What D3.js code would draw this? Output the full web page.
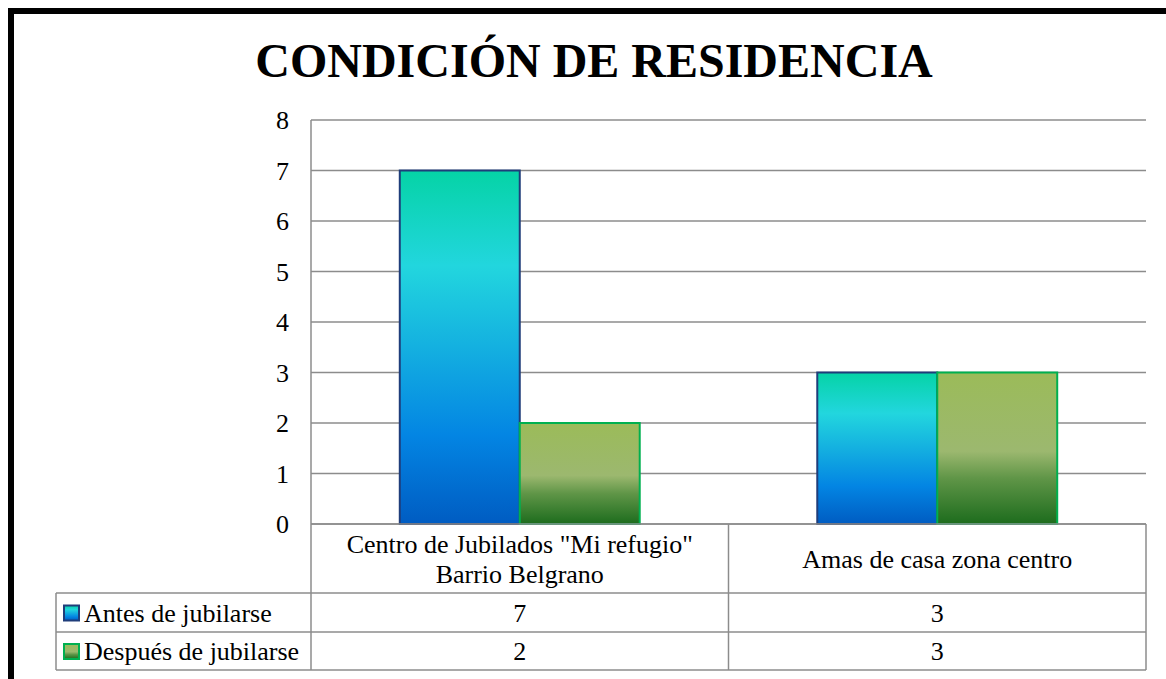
<!DOCTYPE html>
<html><head><meta charset="utf-8">
<script src="https://cdn.jsdelivr.net/npm/d3@7"></script>
</head><body style="margin:0">
<svg id="c" width="1166" height="679"></svg>
<script>
const title = "CONDICIÓN DE RESIDENCIA";
const categories = [["Centro de Jubilados \"Mi refugio\"", "Barrio Belgrano"], ["Amas de casa zona centro"]];
const seriesNames = ["Antes de jubilarse", "Después de jubilarse"];
const antes = [7, 3];
const despues = [2, 3];
const yTicks = [0, 1, 2, 3, 4, 5, 6, 7, 8];

const FONT = "Liberation Serif";
const series = [antes, despues];
const svg = d3.select("#c");
const W = 1166, H = 679;
const L = 311, R = 1146, T = 120, B = 524;
const rowBottoms = [593, 632, 670];
const legendLeft = 56;
const FS = 26;

// frame
svg.append("rect").attr("x", 11).attr("y", 11).attr("width", W + 20).attr("height", H + 20)
  .attr("fill", "none").attr("stroke", "#000").attr("stroke-width", 6);

// gradients
const defs = svg.append("defs");
const gb = defs.append("linearGradient").attr("id", "gBlue").attr("x1", 0).attr("y1", 0).attr("x2", 0).attr("y2", 1);
[[0, "#05d3a6"], [0.27, "#22d6de"], [0.5, "#14b0e0"], [0.75, "#0385e3"], [1, "#005cc2"]].forEach(s => gb.append("stop").attr("offset", s[0]).attr("stop-color", s[1]));
const gg = defs.append("linearGradient").attr("id", "gGreen").attr("x1", 0).attr("y1", 0).attr("x2", 0).attr("y2", 1);
[[0, "#9bbb59"], [0.52, "#9cb86f"], [0.7, "#5f9547"], [1, "#1d6c1d"]].forEach(s => gg.append("stop").attr("offset", s[0]).attr("stop-color", s[1]));
const fills = ["url(#gBlue)", "url(#gGreen)"];
const strokes = ["#1f3d7a", "#00b050"];

// title
svg.append("text").attr("x", 594).attr("y", 77).attr("text-anchor", "middle")
  .attr("font-size", 48).attr("font-weight", "bold").attr("font-family", FONT).text(title);

const y = d3.scaleLinear().domain([0, 8]).range([B, T]);
const x0 = d3.scaleBand().domain(d3.range(categories.length)).range([L, R]).paddingInner(0).paddingOuter(0);
const x1 = d3.scaleBand().domain(d3.range(series.length)).range([0, x0.bandwidth()]).paddingInner(0).paddingOuter(0.74);

// gridlines
svg.append("g").selectAll("line").data(yTicks).join("line")
  .attr("x1", L).attr("x2", R).attr("y1", d => y(d)).attr("y2", d => y(d))
  .attr("stroke", "#8c8c8c").attr("stroke-width", 1.5);
svg.append("line").attr("x1", L).attr("x2", L).attr("y1", T).attr("y2", B).attr("stroke", "#8c8c8c").attr("stroke-width", 1.5);

// y tick labels
svg.append("g").selectAll("text").data(yTicks).join("text")
  .attr("x", 289).attr("y", d => y(d)).attr("dy", "0.35em").attr("text-anchor", "end")
  .attr("font-size", FS).attr("font-family", FONT).text(d => d);

// bars
series.forEach((vals, si) => {
  svg.append("g").selectAll("rect").data(vals).join("rect")
    .attr("x", (d, i) => x0(i) + x1(si))
    .attr("y", d => y(d))
    .attr("width", x1.bandwidth())
    .attr("height", d => y(0) - y(d))
    .attr("fill", fills[si]).attr("stroke", strokes[si]).attr("stroke-width", 2);
});

// table
const tg = svg.append("g").attr("stroke", "#8c8c8c").attr("stroke-width", 1.5);
[L, x0(1), R].forEach(xx => tg.append("line").attr("x1", xx).attr("x2", xx).attr("y1", B).attr("y2", rowBottoms[2]));
tg.append("line").attr("x1", legendLeft).attr("x2", legendLeft).attr("y1", rowBottoms[0]).attr("y2", rowBottoms[2]);
rowBottoms.forEach(yy => tg.append("line").attr("x1", legendLeft).attr("x2", R).attr("y1", yy).attr("y2", yy));
tg.append("line").attr("x1", L).attr("x2", R).attr("y1", B).attr("y2", B);

// category labels
categories.forEach((lines, i) => {
  const cx = x0(i) + x0.bandwidth() / 2;
  const mid = (B + rowBottoms[0]) / 2 + 9;
  lines.forEach((ln, k) => {
    svg.append("text").attr("x", cx).attr("y", mid + (k - (lines.length - 1) / 2) * 30)
      .attr("text-anchor", "middle").attr("font-size", FS).attr("font-family", FONT).text(ln);
  });
});

// series rows
series.forEach((vals, si) => {
  const top = rowBottoms[si], bot = rowBottoms[si + 1];
  const cy = (top + bot) / 2;
  svg.append("rect").attr("x", 64).attr("y", cy - 7).attr("width", 15).attr("height", 15)
    .attr("fill", fills[si]).attr("stroke", strokes[si]).attr("stroke-width", 2);
  svg.append("text").attr("x", 84).attr("y", cy).attr("dy", "0.35em").attr("font-size", FS).attr("font-family", FONT).text(seriesNames[si]);
  vals.forEach((v, i) => {
    svg.append("text").attr("x", x0(i) + x0.bandwidth() / 2).attr("y", cy).attr("dy", "0.35em")
      .attr("text-anchor", "middle").attr("font-size", FS).attr("font-family", FONT).text(v);
  });
});
</script>
</body></html>
